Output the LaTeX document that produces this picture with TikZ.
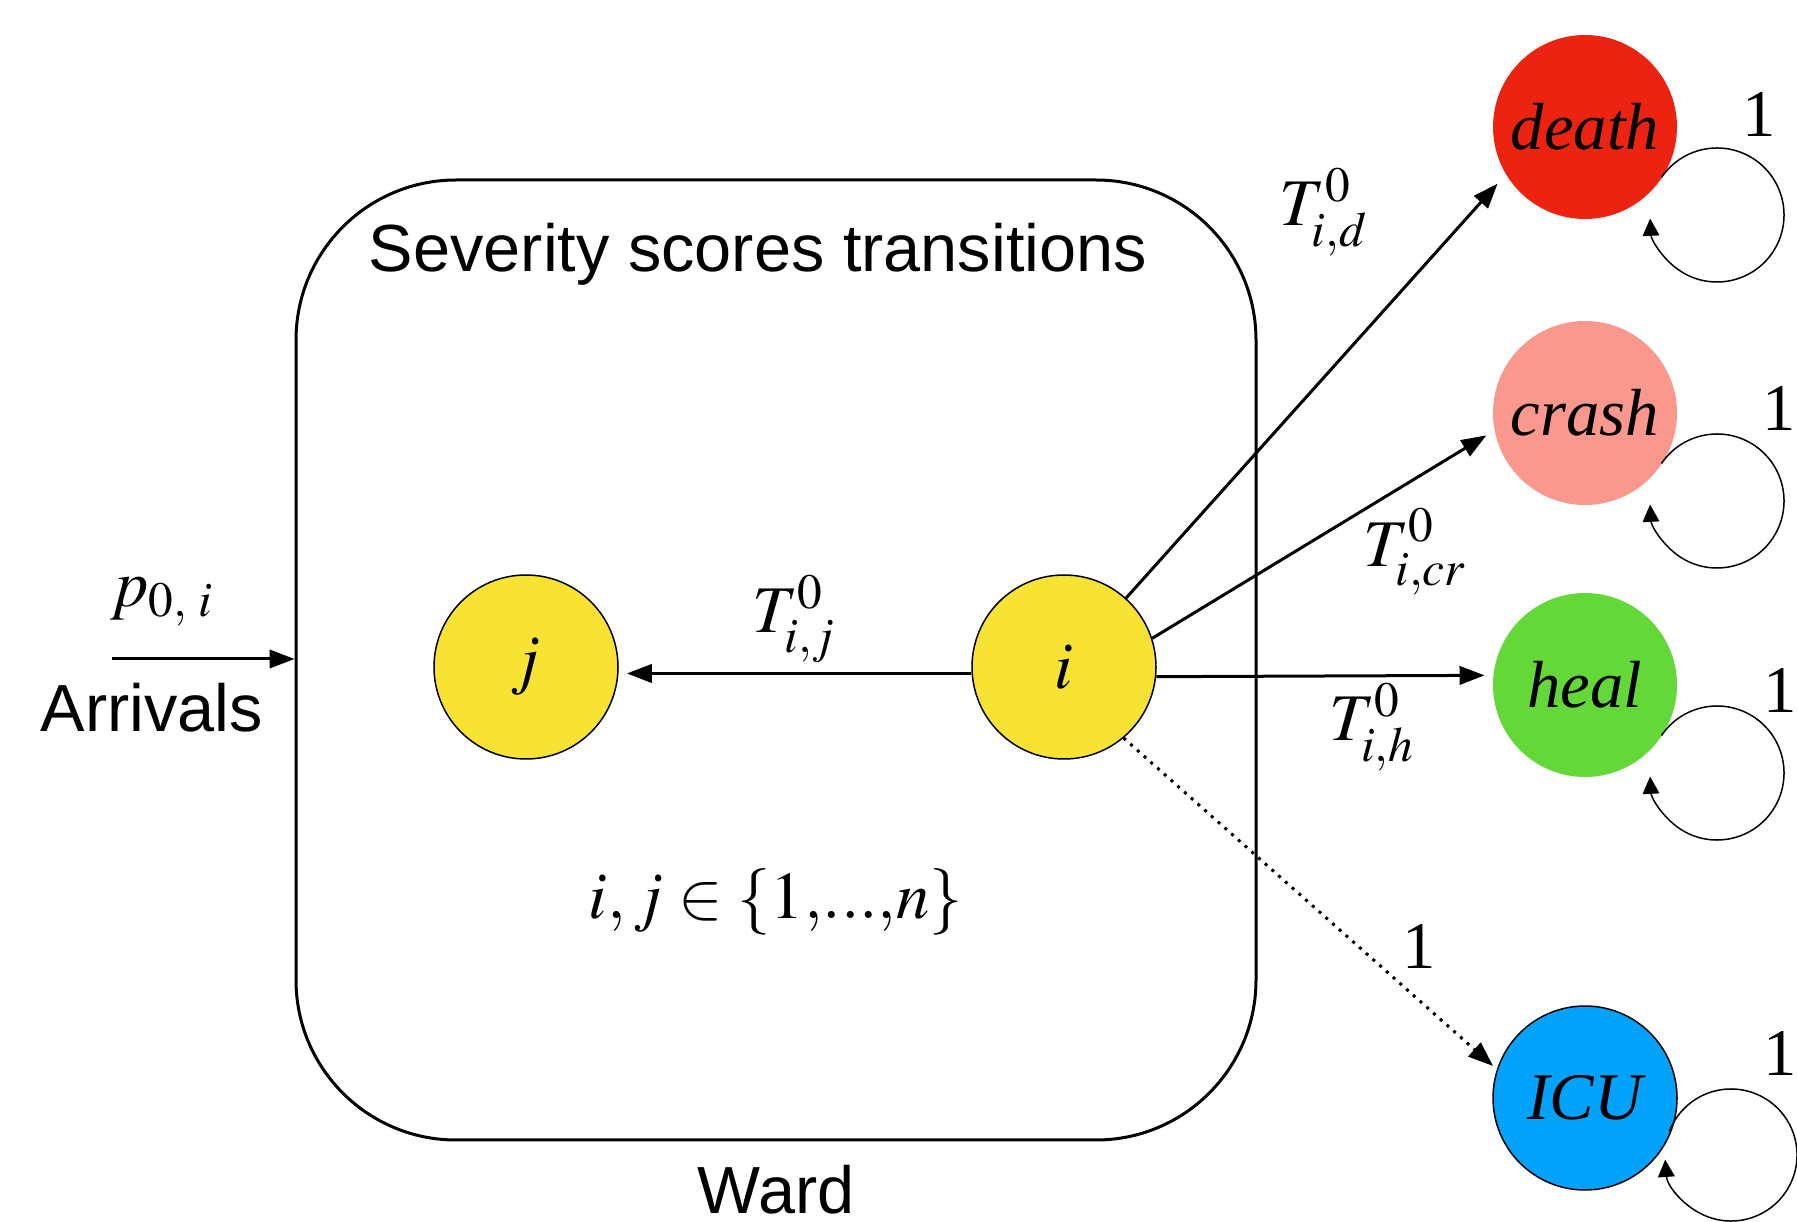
\documentclass[tikz,border=0pt]{standalone}
\usepackage{mathptmx}
\usepackage[no-math]{fontspec}
\setmainfont{Liberation Serif}
\setsansfont{Liberation Sans}
\usetikzlibrary{arrows.meta, positioning, calc}

\definecolor{deathred}{RGB}{237,35,17}
\definecolor{crashpink}{RGB}{250,152,142}
\definecolor{healgreen}{RGB}{100,216,56}
\definecolor{icublue}{RGB}{2,162,253}
\definecolor{scoreyellow}{RGB}{248,226,52}

\begin{document}
\begin{tikzpicture}[
    x=0.3pt, y=-0.3pt,
    >={Triangle[length=7.5pt, width=5.5pt]},
    font=\fontsize{20}{24}\selectfont,
    ward/.style     ={draw, line width=0.9pt, rounded corners=48pt,
                      minimum width=288pt, minimum height=288pt},
    score/.style    ={circle, draw, line width=0.45pt, fill=scoreyellow,
                      minimum size=55.2pt, inner sep=0pt},
    outcome/.style  ={circle, minimum size=55.2pt, inner sep=0pt,
                      font=\fontsize{20}{24}\selectfont\itshape},
    flow/.style     ={->, line width=0.9pt, shorten >=2.5pt},
    dotflow/.style  ={flow, dash pattern=on 0.9pt off 1.8pt},
    selfloop/.style ={-{Triangle[length=5.2pt, width=5pt]}, line width=0.45pt},
    caption/.style  ={font=\fontsize{20}{24}\selectfont\sffamily}
]
\useasboundingbox (0,0) rectangle (1797,1222);

% Ward box with the severity states
\node[ward] (ward) at (776,660) {};
\node[caption] (title) at (758,254) {Severity scores transitions};
\node[caption] (wardlbl) at (776,1190) {Ward};

\node[score] (j) at (526,667) {$j$};
\node[score] (i) at (1064,667) {$i$};
\node (range) at (776,902) {$i, j \in \{1,\!...,\!n\}$};

% Absorbing outcomes
\node[outcome, fill=deathred]  (death) at (1585,127)  {death};
\node[outcome, fill=crashpink] (crash) at (1585,413)  {crash};
\node[outcome, fill=healgreen] (heal)  at (1585,685)  {heal};
\node[outcome, draw, line width=0.45pt, fill=icublue] (icu) at (1585,1098) {ICU};

% Arrivals
\coordinate (arr) at (112,659);
\draw[flow, shorten >=0pt] (arr) -- (arr -| ward.west);
\node (parr) at (162,602) {$p_{0,\;i}$};
\node[caption] (arrlbl) at (152,708) {Arrivals};

% --- Arrows ---
\draw[flow] (i.184) -- (j.356);
\node (tij) at (794,619) {$T^0_{i,j}$};

\draw[flow, shorten >=3.6pt] (i.48) -- (death.211);
\node (tid) at (1324,212) {$T^0_{i,d}$};

\draw[flow, shorten >=2.7pt] (i.18) -- (crash.191);
\node (ticr) at (1415,552) {$T^0_{i,cr}$};

\draw[flow] (i.-6) -- (heal.174);
\node (tih) at (1372,727) {$T^0_{i,h}$};

\draw[dotflow, shorten >=1.5pt] (i.-50) -- (icu.162);
\node (ticu) at (1419,946) {1};

% Self loops on the outcomes
\coordinate (dl) at (1717,215);
\coordinate (cl) at (1717,501);
\coordinate (hl) at (1717,773);
\coordinate (il) at (1731,1155);
\draw[selfloop] ([shift={(214:67)}]dl) arc[start angle=214, end angle=537, radius=67];
\draw[selfloop] ([shift={(214:67)}]cl) arc[start angle=214, end angle=537, radius=67];
\draw[selfloop] ([shift={(214:67)}]hl) arc[start angle=214, end angle=537, radius=67];
\draw[selfloop] ([shift={(201:66)}]il) arc[start angle=201, end angle=536, radius=66];
\node (dloop) at (1759,115)  {1};
\node (cloop) at (1779,409)  {1};
\node (hloop) at (1780,690)  {1};
\node (iloop) at (1780,1053) {1};

\end{tikzpicture}
\end{document}
